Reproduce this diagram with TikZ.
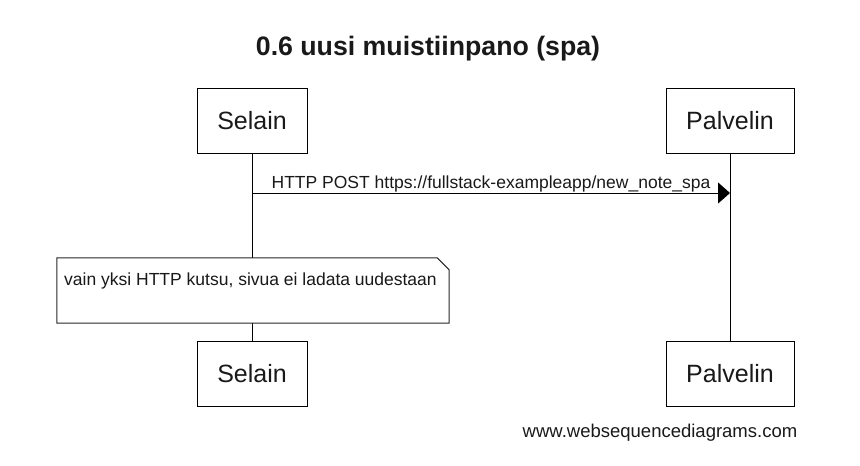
\documentclass[tikz,border=0pt]{standalone}
\usepackage{fontspec}
\setmainfont{Liberation Sans}
\usetikzlibrary{arrows.meta}
\begin{document}
\begin{tikzpicture}[x=1pt,y=-1pt,
  actor/.style={draw=black, line width=1pt, fill=white, inner sep=0pt,
    font=\fontsize{25}{30}\selectfont, text=black!90},
  selbox/.style={actor, minimum width=110pt, minimum height=65pt},
  palbox/.style={actor, minimum width=128pt, minimum height=65pt},
  lifeline/.style={line width=1pt, draw=black},
  msg/.style={line width=1pt, draw=black, -{Triangle[length=12pt,width=21pt]}},
  lbl/.style={font=\fontsize{17.5}{21}\selectfont, text=black!90, inner sep=0pt},
  notebg/.style={fill=white, draw=none, inner sep=0pt, minimum width=392pt, minimum height=65pt},
  noteline/.style={line width=1pt, draw=black!85}
]
\useasboundingbox (0,0) rectangle (860,466);

\node[font=\bfseries\fontsize{26.7}{32}\selectfont, inner sep=0pt, anchor=base, text=black!90] (title) at (428,55) {0.6 uusi muistiinpano (spa)};

\node[selbox] (st) at (252,120.5) {Selain};
\node[palbox] (pt) at (730,120.5) {Palvelin};
\node[selbox] (sb) at (252,373.5) {Selain};
\node[palbox] (pb) at (730,373.5) {Palvelin};

\draw[lifeline] (st.south) -- (sb.north);
\draw[lifeline] (pt.south) -- (pb.north);

\coordinate (a1) at (252,193);
\coordinate (a2) at (730,193);
\draw[msg] (a1) -- (a2) node[lbl, midway, anchor=base, yshift=5pt] (mlabel) {HTTP POST https://fullstack-exampleapp/new\_note\_spa};

\node[notebg] (note) at (253,290.5) {};
\draw[noteline] (note.north west) -- ([xshift=-12pt]note.north east) -- ([yshift=-12pt]note.north east) -- (note.south east) -- (note.south west) -- cycle;
\node[lbl, anchor=base west] (notetext) at (64,285) {vain yksi HTTP kutsu, sivua ei ladata uudestaan};

\node[font=\fontsize{18.5}{22}\selectfont, inner sep=0pt, anchor=base, text=black!90] (wm) at (660,437) {www.websequencediagrams.com};
\end{tikzpicture}
\end{document}
